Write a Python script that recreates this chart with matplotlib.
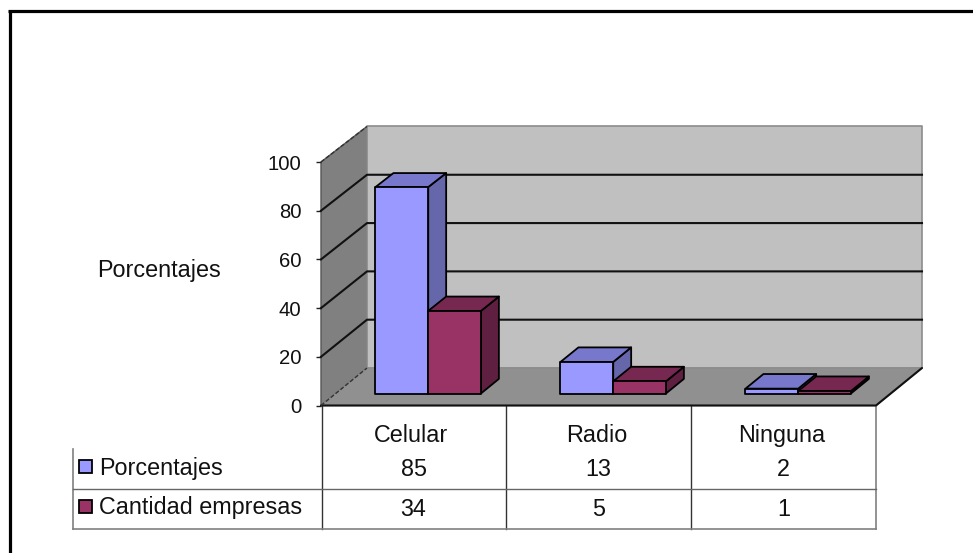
import numpy as np
import matplotlib
matplotlib.use('Agg')
import matplotlib.pyplot as plt
from matplotlib.patches import Polygon, Rectangle
from matplotlib.transforms import blended_transform_factory

plt.rcParams['font.family'] = ['Liberation Sans', 'DejaVu Sans']

## Data
categorias = ['Celular', 'Radio', 'Ninguna']
porcentajes = [85, 13, 2]
cantidad_empresas = [34, 5, 1]
nombres = ['Porcentajes', 'Cantidad empresas']
y_ticks = [0, 20, 40, 60, 80, 100]

W, H = 973, 553
FONT = 16.8

## 3D look: depth is a shear of the front plane, with a small shrink towards the back
DX = 46 / 185
DY = 37.5 / 243.5 * 100
SHRINK = 0.008
BAR_W = 0.285
D_FRONT, D_BACK = 0.32, 0.71

fig = plt.figure(figsize=(W / 100, H / 100), dpi=100)

## Page axes in pixels for the frame and the data table
page = fig.add_axes([0, 0, 1, 1])
page.set_xlim(0, W)
page.set_ylim(H, 0)
page.axis('off')

ax = fig.add_axes([321 / W, 1 - 405.5 / H, 555 / W, 243.5 / H], zorder=2)
ax.set_xlim(0, 3)
ax.set_ylim(0, 100)
ax.patch.set_visible(False)
for s in ax.spines.values():
    s.set_visible(False)
ax.set_xticks([])
ax.set_yticks(y_ticks)
ax.tick_params(axis='y', length=3.6, width=1.0, pad=10.5, labelsize=14.6, color='#222222', labelcolor='#111111')


def shear(x, y, d):
    return (x + d * DX, y * (1 - d * SHRINK) + d * DY)


def poly(pts, fc, ec='black', lw=1.3, z=1):
    ax.add_patch(Polygon(pts, closed=True, fc=fc, ec=ec, lw=lw, zorder=z,
                         clip_on=False, joinstyle='round'))


## Walls and floor
poly([shear(0, 0, 0), shear(0, 0, 1), shear(0, 100, 1), shear(0, 100, 0)], '#808080', ec='#555555', lw=1.0)
poly([shear(0, 0, 1), shear(3, 0, 1), shear(3, 100, 1), shear(0, 100, 1)], '#C0C0C0', ec='#8c8c8c', lw=1.2)
poly([shear(0, 0, 0), shear(3, 0, 0), shear(3, 0, 1), shear(0, 0, 1)], '#909090', ec='#8c8c8c', lw=1.0)
ax.plot([0, 3, 3 + DX], [0, 0, DY], color='#111111', lw=1.5, zorder=2, clip_on=False, solid_capstyle='round')
ax.plot([0, DX], [0, DY], color='#333333', lw=1.0, ls=(0, (3, 1.5)), zorder=2, clip_on=False)
top_back = shear(0, 100, 1)
ax.plot([0, top_back[0]], [100, top_back[1]], color='#333333', lw=1.0, ls=(0, (3, 1.5)), zorder=2, clip_on=False)

## Gridlines on both walls
for v in y_ticks[1:-1]:
    gb = shear(0, v, 1)
    ax.plot([0, gb[0], 3 + DX], [v, gb[1], gb[1]], color='#111111', lw=1.5, zorder=2, clip_on=False)


def bar3d(x0, v, front, top, side, z):
    x1 = x0 + BAR_W
    f = [shear(x0, 0, D_FRONT), shear(x1, 0, D_FRONT), shear(x1, v, D_FRONT), shear(x0, v, D_FRONT)]
    t = [shear(x0, v, D_FRONT), shear(x1, v, D_FRONT), shear(x1, v, D_BACK), shear(x0, v, D_BACK)]
    s = [shear(x1, 0, D_FRONT), shear(x1, 0, D_BACK), shear(x1, v, D_BACK), shear(x1, v, D_FRONT)]
    poly(s, side, z=z)
    poly(t, top, z=z)
    poly(f, front, z=z)


## Bars, back to front inside each group
for i in range(len(categorias)):
    c = i + 0.5
    bar3d(c - BAR_W, porcentajes[i], '#9999FF', '#7777CC', '#6666AA', 3 + 2 * i)
    bar3d(c, cantidad_empresas[i], '#993366', '#772850', '#5F1F40', 4 + 2 * i)

## Frame: only left and top edges
page.plot([9.5, 9.5], [H, 10.5], color='black', lw=2.3, solid_capstyle='butt')
page.plot([8, W], [10.5, 10.5], color='black', lw=2.3, solid_capstyle='butt')

page.text(97, 277, 'Porcentajes', fontsize=FONT, ha='left', va='baseline', color='#111111')

## Data table
GRID = '#666666'
for x in [321.5, 506, 691]:
    page.plot([x, x], [405, 528.5], color='#333333', lw=1.0)
page.plot([876, 876], [405, 528.5], color='#808080', lw=1.2)
page.plot([73, 73], [449, 528.5], color='#808080', lw=1.2)
page.plot([73, 876], [489, 489], color=GRID, lw=1.0)
page.plot([73, 876], [528.5, 528.5], color='#808080', lw=1.2)

trans = blended_transform_factory(ax.transData, page.transData)
for i, cat in enumerate(categorias):
    c = i + 0.5
    page.text(c - 0.012, 442, cat, transform=trans, fontsize=FONT, ha='center', va='baseline', color='#111111')
    page.text(c, 476, str(porcentajes[i]), transform=trans, fontsize=FONT, ha='center', va='baseline', color='#111111')
    page.text(c, 516.5, str(cantidad_empresas[i]), transform=trans, fontsize=FONT, ha='center', va='baseline', color='#111111')

for nombre, color, yk, yb in zip(nombres, ['#9999FF', '#993366'], [466.5, 506], [475, 514]):
    page.add_patch(Rectangle((79, yk - 6.5), 13, 13, fc=color, ec='black', lw=1.3))
    page.text(99, yb, nombre, fontsize=FONT, ha='left', va='baseline', color='#111111')

fig.savefig('out.png', dpi=100)
